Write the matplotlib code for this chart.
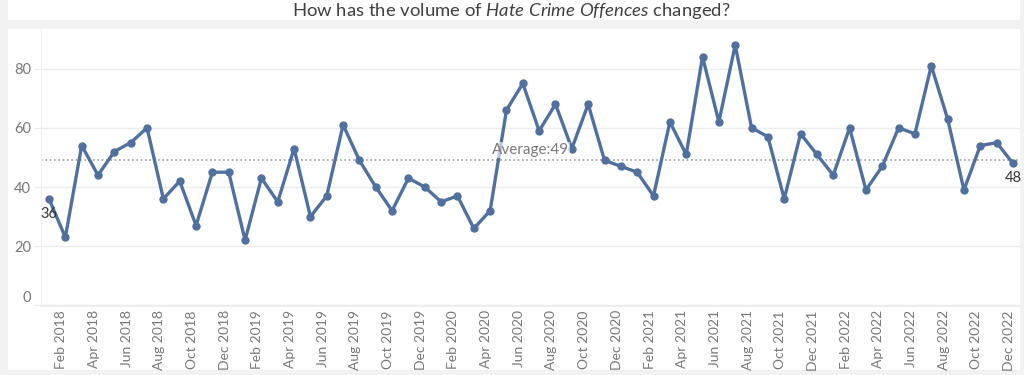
import matplotlib
matplotlib.use("Agg")
import matplotlib.pyplot as plt
import matplotlib.transforms as mtransforms
from matplotlib.patches import Rectangle
import numpy as np

# ---- data ----
months = ["Jan", "Feb", "Mar", "Apr", "May", "Jun", "Jul", "Aug", "Sep", "Oct", "Nov", "Dec"]
years = [2018, 2019, 2020, 2021, 2022]
periods = [f"{m} {y}" for y in years for m in months]
offences = [36, 23, 54, 44, 52, 55, 60, 36, 42, 27, 45, 45,
            22, 43, 35, 53, 30, 37, 61, 49, 40, 32, 43, 40,
            35, 37, 26, 32, 66, 75, 59, 68, 53, 68, 49, 47,
            45, 37, 62, 51, 84, 62, 88, 60, 57, 36, 58, 51,
            44, 60, 39, 47, 60, 58, 81, 63, 39, 54, 55, 48]
y_ticks = [0, 20, 40, 60, 80]
title_text = r"How has the volume of $\it{Hate\ Crime\ Offences}$ changed?"

plt.rcParams['font.family'] = ['Lato', 'DejaVu Sans']
plt.rcParams['mathtext.fontset'] = 'custom'
plt.rcParams['mathtext.rm'] = 'Lato'
plt.rcParams['mathtext.it'] = 'Lato:italic'

W, H = 1024, 375
fig = plt.figure(figsize=(W / 100, H / 100), dpi=100)
fig.patch.set_facecolor('#f2f2f2')

# white panels (behind axes)
fig.add_artist(Rectangle((8 / W, 1 - 20 / H), (1020 - 8) / W, 20 / H,
                         transform=fig.transFigure, facecolor='white',
                         edgecolor='none', zorder=-5))
fig.add_artist(Rectangle((8 / W, 1 - 370 / H), (1020 - 8) / W, (370 - 29) / H,
                         transform=fig.transFigure, facecolor='white',
                         edgecolor='none', zorder=-5))

ax = fig.add_axes([41 / W, 1 - 306 / H, (1020 - 41) / W, (306 - 29) / H])
ax.set_facecolor('white')
ax.set_zorder(1)

x = np.arange(len(offences))
line_color = '#50709f'
ax.plot(x, offences, color=line_color, lw=2.4, marker='o', ms=5,
        solid_joinstyle='round', zorder=3)

avg = float(np.mean(offences))
ax.axhline(avg, color='#a0a0a0', lw=1.2, ls=(0, (1, 1.6)), zorder=2)
ax.text(0.5, avg + 3.3, f"Average:{round(avg)}", transform=ax.get_yaxis_transform(),
        ha='center', va='center', fontsize=11, color='#7a7a7a', zorder=4,
        bbox=dict(boxstyle='square,pad=0.05', facecolor='white', alpha=0.6, edgecolor='none'))

# end labels
ax.annotate(str(offences[0]), (x[0], offences[0]), xytext=(0, -15), textcoords='offset pixels',
            ha='center', va='center', fontsize=10.5, color='#333333', zorder=5)
ax.annotate(str(offences[-1]), (x[-1], offences[-1]), xytext=(0, -15), textcoords='offset pixels',
            ha='center', va='center', fontsize=10.5, color='#333333', zorder=5)

ax.set_xlim(-0.49, len(offences) - 1 + 0.43)
ax.set_ylim(-0.2, 93.4)

ax.set_yticks(y_ticks)
ax.set_yticklabels([str(v) for v in y_ticks])
ax.set_xticks(x[1::2])
ax.set_xticklabels(periods[1::2], rotation=90, va='top', ha='center')

ax.grid(axis='y', color='#ececec', lw=1)
ax.set_axisbelow(True)
for s in ['top', 'right']:
    ax.spines[s].set_visible(False)
ax.spines['left'].set_color('#f0f0f0')
ax.spines['bottom'].set_color('#f0f0f0')
ax.tick_params(axis='y', length=5, color='#ececec', labelsize=10.5, labelcolor='#777777', pad=2)
ax.tick_params(axis='x', length=0, labelsize=10, labelcolor='#777777', pad=3)

off = mtransforms.ScaledTranslation(-4 / 100, 0, fig.dpi_scale_trans)
for lbl in ax.get_xticklabels():
    lbl.set_transform(lbl.get_transform() + off)
ylabels = ax.get_yticklabels()
ylabels[0].set_va('bottom')

fig.text(511 / W, 1 - 11 / H, title_text, ha='center', va='center',
         fontsize=13.3, color='#404040')

fig.savefig('out.png', dpi=100, facecolor=fig.get_facecolor())
